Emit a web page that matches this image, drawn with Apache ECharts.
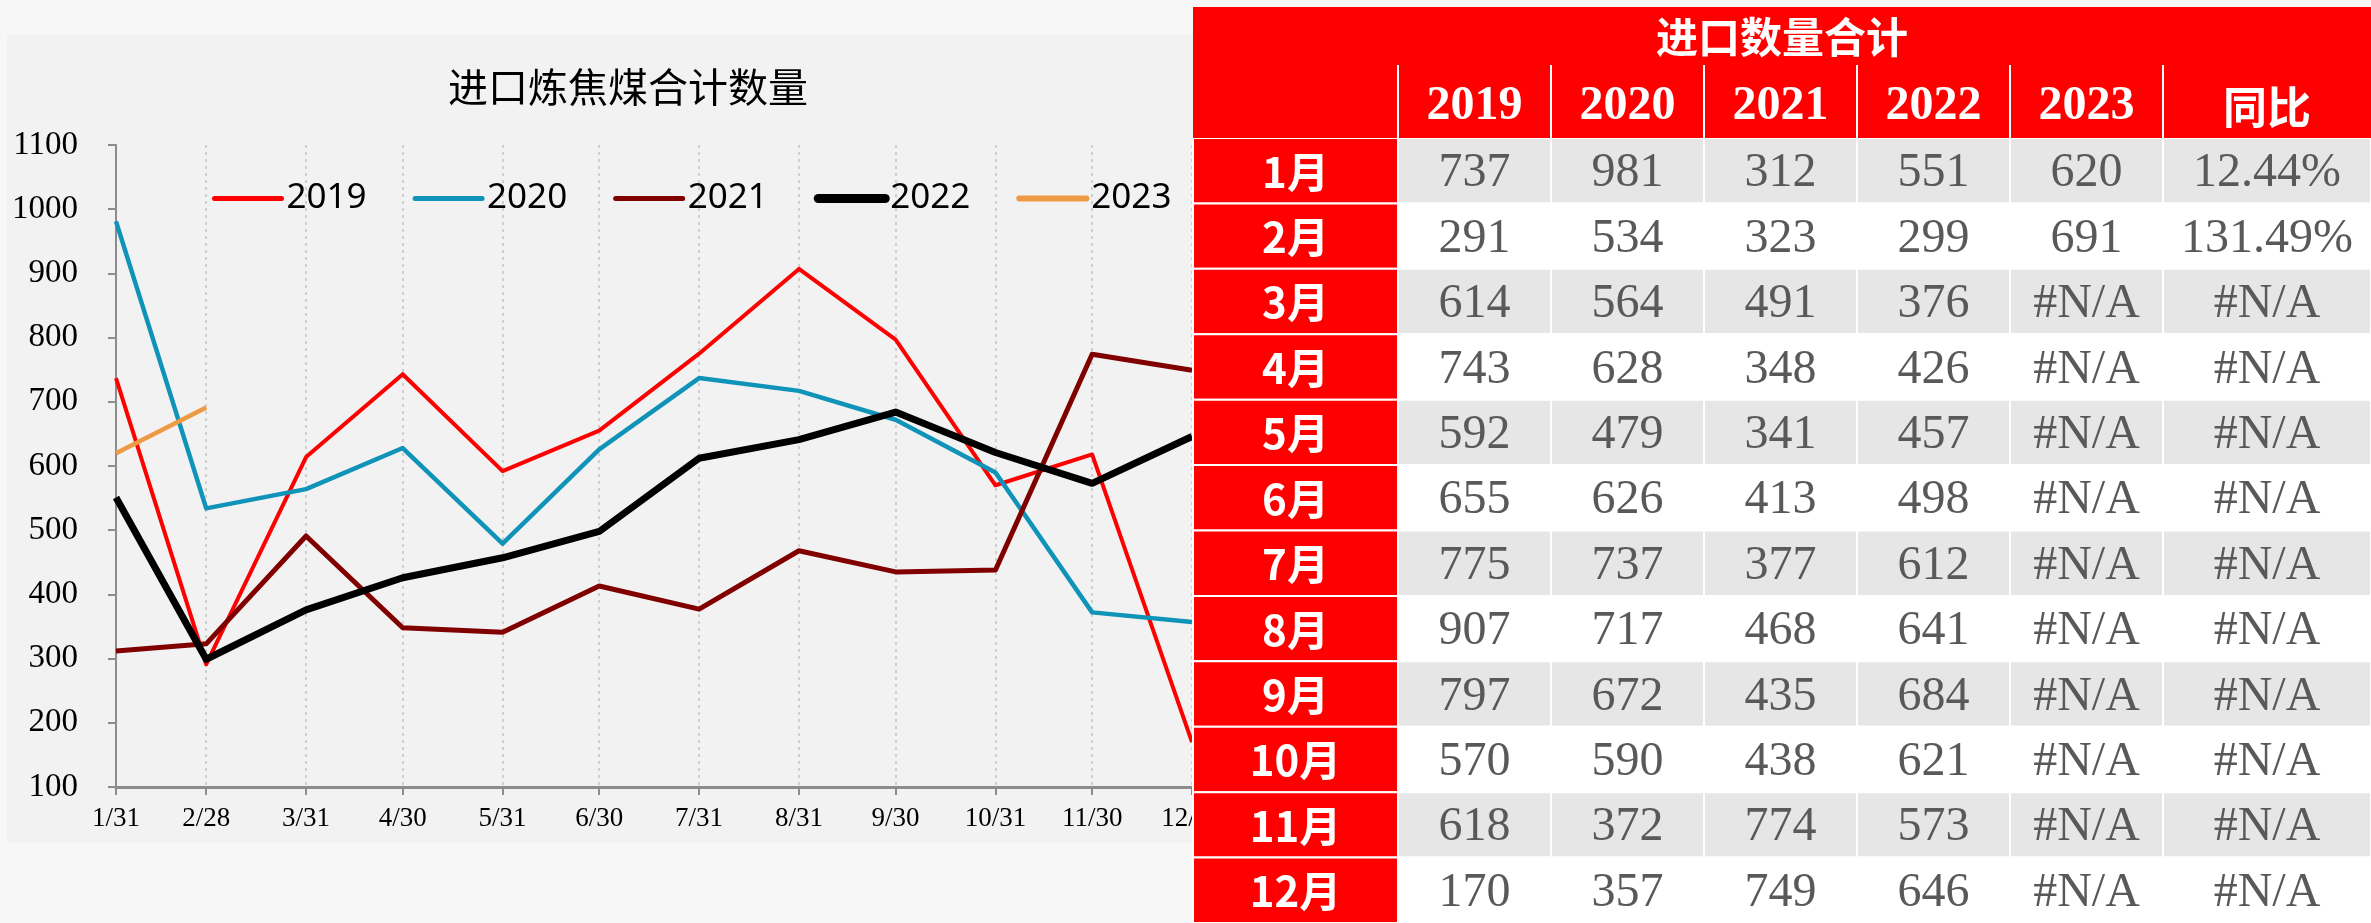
<!DOCTYPE html>
<html>
<head>
<meta charset="utf-8">
<script src="https://cdn.jsdelivr.net/npm/echarts@6/dist/echarts.min.js"></script>
<style>
  html, body { margin: 0; padding: 0; background: #f7f7f7; }
  #main { width: 2371px; height: 923px; }
</style>
</head>
<body>
<div id="main"></div>
<script>
// x轴日期（月末）
const monthEnds = ['2023-01-31', '2023-02-28', '2023-03-31', '2023-04-30', '2023-05-31', '2023-06-30',
  '2023-07-31', '2023-08-31', '2023-09-30', '2023-10-31', '2023-11-30', '2023-12-31'];
const months = ['1月', '2月', '3月', '4月', '5月', '6月', '7月', '8月', '9月', '10月', '11月', '12月'];
const years = ['2019', '2020', '2021', '2022', '2023'];
const v2019 = [737, 291, 614, 743, 592, 655, 775, 907, 797, 570, 618, 170];
const v2020 = [981, 534, 564, 628, 479, 626, 737, 717, 672, 590, 372, 357];
const v2021 = [312, 323, 491, 348, 341, 413, 377, 468, 435, 438, 774, 749];
const v2022 = [551, 299, 376, 426, 457, 498, 612, 641, 684, 621, 573, 646];
const v2023 = [620, 691];
const yoy = ['12.44%', '131.49%'];
const yMin = 100, yMax = 1100, yStep = 100;

const allValues = [v2019, v2020, v2021, v2022, v2023];
const colors = ['#ff0000', '#0f93b8', '#800000', '#000000', '#ee9943'];
const lineWidths = [4, 4.5, 5, 7, 4.5];
const legendWidths = [5, 5, 5, 9, 6];

// 表格列边界（相对表格左侧）
const colEdges = [0, 205, 358, 511, 664, 817, 970, 1178];

//日期转时间戳
let xTimes = monthEnds.map((s) => {
  let p = s.split('-').map(Number);
  return new Date(p[0], p[1] - 1, p[2]).getTime();
});

let myChart = echarts.init(document.getElementById('main'));

//折线
let lineSeries = years.map((y, i) => ({
  name: y,
  type: 'line',
  xAxisIndex: 0,
  yAxisIndex: 0,
  symbol: 'none',
  data: allValues[i].map((v, k) => [xTimes[k], v]),
  lineStyle: { color: colors[i], width: lineWidths[i], join: 'round' },
  itemStyle: { color: colors[i] },
  z: 3,
}));

//表格内容
let bodyData = [];
let cellText = [];
months.forEach((m, r) => {
  let row = [m, v2019[r], v2020[r], v2021[r], v2022[r],
    v2023[r] !== undefined ? v2023[r] : '#N/A',
    yoy[r] !== undefined ? yoy[r] : '#N/A'];
  row.forEach((t, c) => {
    bodyData.push([c, r]);
    cellText.push(String(t));
  });
});
let headerCols = [''].concat(years, ['同比']);

function renderBody(params, api) {
  let c = api.value(0), r = api.value(1);
  let yc = api.coord([0, r])[1];
  let bh = api.size([0, 1])[1];
  let x0 = api.coord([colEdges[c], r])[0];
  let x1 = api.coord([colEdges[c + 1], r])[0];
  let isMonth = c === 0;
  let fill = isMonth ? '#ff0000' : (r % 2 === 0 ? '#e6e6e6' : '#ffffff');
  return {
    type: 'group',
    children: [
      {
        type: 'rect',
        shape: { x: x0, y: yc - bh / 2, width: x1 - x0, height: bh },
        style: { fill: fill, stroke: '#ffffff', lineWidth: 2 },
      },
      {
        type: 'text',
        x: (x0 + x1) / 2,
        y: yc + (isMonth ? 1 : 3),
        style: {
          text: cellText[params.dataIndex],
          fill: isMonth ? '#ffffff' : '#595959',
          font: isMonth ? 'bold 42px "Noto Sans CJK SC"' : '48px "Liberation Serif"',
          align: 'center',
          verticalAlign: 'middle',
        },
      },
    ],
  };
}

function renderHeader(params, api) {
  let c = params.dataIndex;
  let bh = api.size([0, 1])[1];
  let top = api.coord([0, 0])[1] - bh / 2;
  let x0 = api.coord([colEdges[c], 0])[0];
  let x1 = api.coord([colEdges[c + 1], 0])[0];
  let text = headerCols[c];
  let cjk = /[^\x00-\x7f]/.test(text);
  let children = [
    {
      type: 'rect',
      shape: { x: x0, y: top - 131, width: x1 - x0 + 1, height: 131 },
      style: { fill: '#ff0000' },
    },
    {
      type: 'text',
      x: (x0 + x1) / 2,
      y: top - 31,
      style: {
        text: text,
        fill: '#ffffff',
        font: cjk ? 'bold 44px "Noto Sans CJK SC"' : 'bold 48px "Liberation Serif"',
        align: 'center',
        verticalAlign: 'middle',
      },
    },
  ];
  if (c > 0) {
    children.push({
      type: 'line',
      shape: { x1: x0, y1: top - 73, x2: x0, y2: top },
      style: { stroke: '#ffffff', lineWidth: 2 },
    });
  }
  if (c === 0) {
    let xl = api.coord([colEdges[0], 0])[0];
    let xr = api.coord([colEdges[colEdges.length - 1], 0])[0];
    children.push({
      type: 'text',
      x: (xl + xr) / 2,
      y: top - 101,
      z2: 10,
      style: {
        text: '进口数量合计',
        fill: '#ffffff',
        font: 'bold 42px "Noto Sans CJK SC"',
        align: 'center',
        verticalAlign: 'middle',
      },
    });
  }
  return { type: 'group', children: children };
}

let option = {
  backgroundColor: '#f7f7f7',
  animation: false,
  graphic: [
    {
      type: 'rect',
      z: -100,
      shape: { x: 7, y: 35, width: 1190, height: 808 },
      style: { fill: '#f2f2f2' },
    },
  ],
  title: {
    text: '进口炼焦煤合计数量',
    left: 623,
    textAlign: 'center',
    top: 62,
    textStyle: {
      color: '#000',
      fontSize: 40,
      fontWeight: 'normal',
      fontFamily: 'Noto Sans CJK SC',
    },
  },
  legend: {
    left: 207,
    top: 176,
    itemWidth: 67,
    itemHeight: 14,
    itemGap: 46,
    itemStyle: { opacity: 0, borderWidth: 0 },
    data: years.map((y, i) => ({
      name: y,
      itemStyle: { opacity: 0, borderWidth: 0 },
      lineStyle: { width: legendWidths[i], cap: 'round', color: colors[i] },
    })),
    textStyle: { color: '#000', fontSize: 35, fontFamily: 'Noto Sans' },
  },
  grid: [
    { left: 116, top: 145, width: 1076, height: 642 },
    { left: 1193, top: 138, width: 1178, height: 787 },
  ],
  xAxis: [
    {
      type: 'value',
      gridIndex: 0,
      min: xTimes[0],
      max: xTimes[xTimes.length - 1],
      axisLine: { show: true, lineStyle: { color: '#8c8c8c', width: 3 } },
      axisTick: {
        show: true,
        length: 8,
        customValues: xTimes,
        lineStyle: { color: '#8c8c8c', width: 2 },
      },
      axisLabel: {
        customValues: xTimes,
        margin: 18,
        color: '#000',
        fontSize: 27,
        fontFamily: 'Liberation Serif',
        formatter: function (v) {
          let d = new Date(v);
          return d.getMonth() + 1 + '/' + d.getDate();
        },
      },
      splitLine: {
        show: true,
        lineStyle: { color: '#c4c4c4', width: 1.5, type: [3, 4] },
      },
    },
    { type: 'value', gridIndex: 1, min: 0, max: colEdges[colEdges.length - 1], show: false },
  ],
  yAxis: [
    {
      type: 'value',
      gridIndex: 0,
      min: yMin,
      max: yMax,
      interval: yStep,
      axisLine: { show: true, lineStyle: { color: '#8c8c8c', width: 2 } },
      axisTick: { show: true, length: 8, lineStyle: { color: '#8c8c8c', width: 2 } },
      axisLabel: {
        margin: 38,
        color: '#000',
        fontSize: 33,
        fontFamily: 'Liberation Serif',
        formatter: (v) => String(v),
      },
      splitLine: { show: false },
    },
    { type: 'category', gridIndex: 1, data: months, inverse: true, show: false },
  ],
  series: lineSeries.concat([
    {
      type: 'custom',
      xAxisIndex: 1,
      yAxisIndex: 1,
      z: 10,
      silent: true,
      encode: { x: 0, y: 1 },
      data: bodyData,
      renderItem: renderBody,
    },
    {
      type: 'custom',
      xAxisIndex: 1,
      yAxisIndex: 1,
      z: 11,
      silent: true,
      encode: { x: 0, y: 1 },
      data: headerCols.map((h, c) => [c, 0]),
      renderItem: renderHeader,
    },
  ]),
};
myChart.setOption(option);
</script>
</body>
</html>
